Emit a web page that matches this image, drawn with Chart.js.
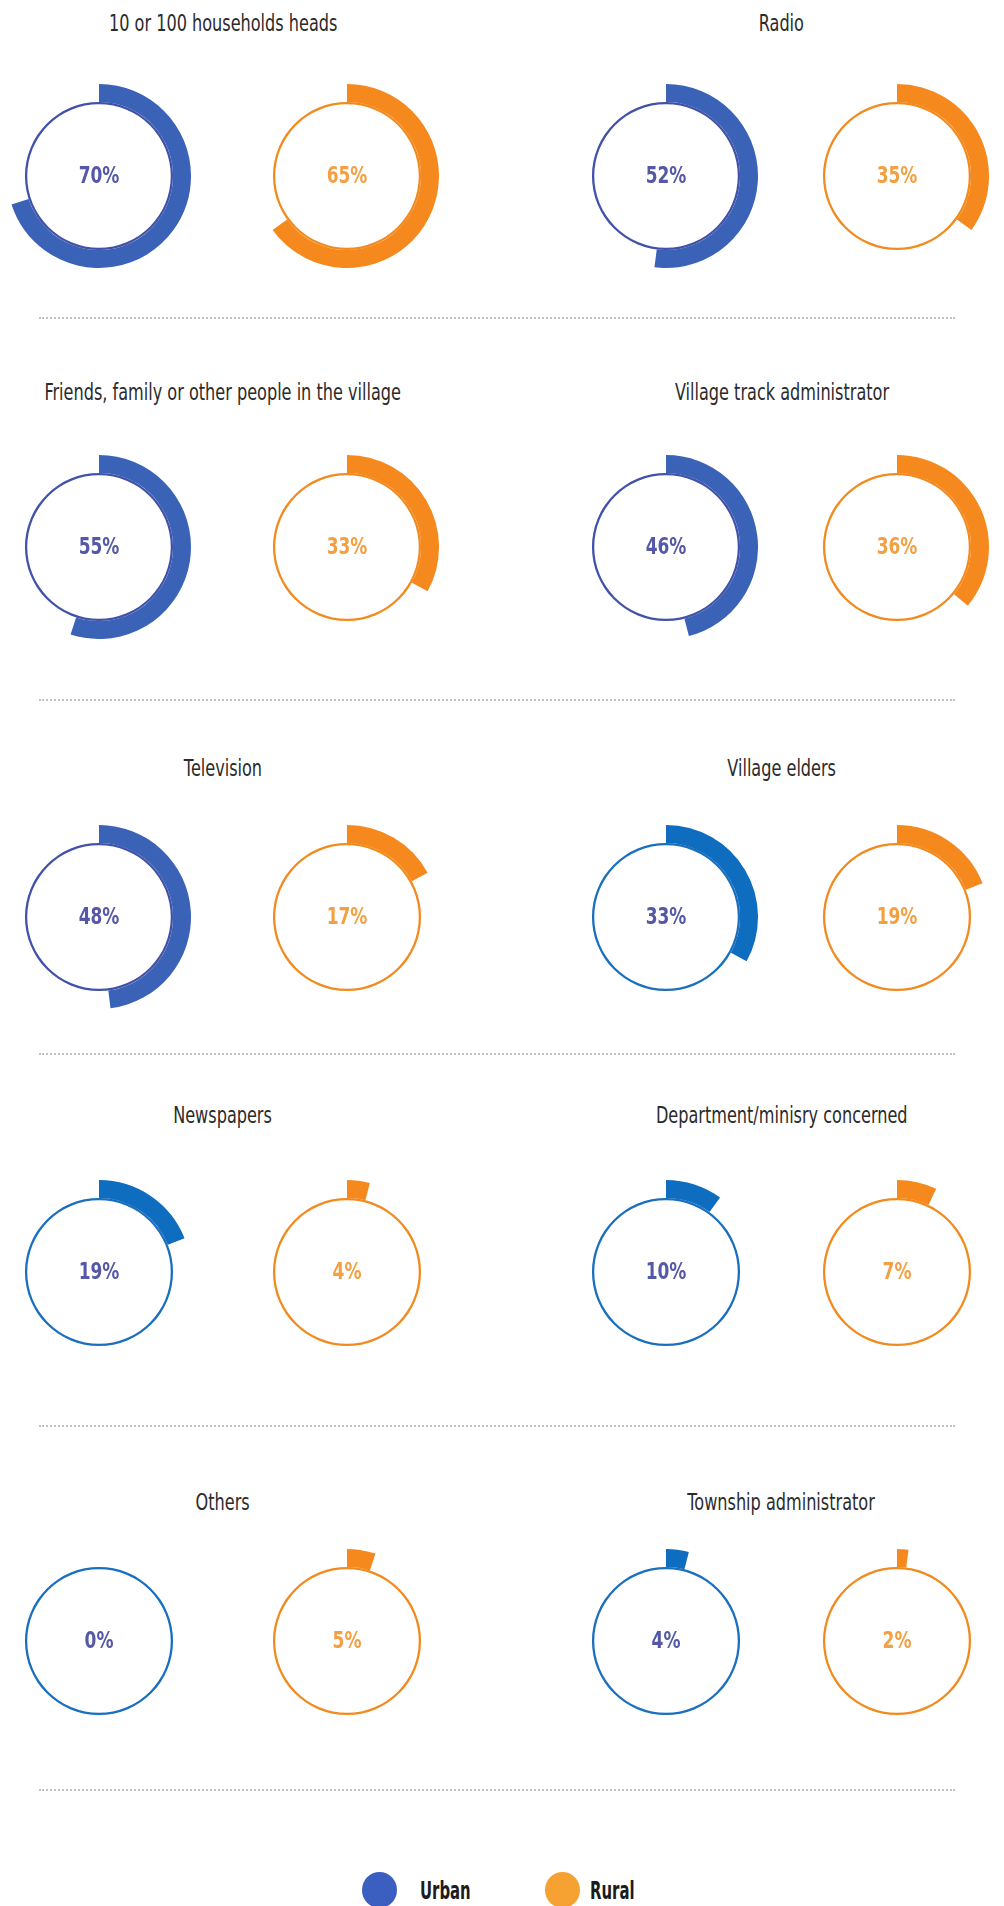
<!DOCTYPE html>
<html>
<head>
<meta charset="utf-8">
<script src="https://cdn.jsdelivr.net/npm/chart.js@4/dist/chart.umd.min.js"></script>
<style>
  html, body { margin: 0; padding: 0; background: #fff; }
  #page { position: relative; width: 1004px; height: 1906px; overflow: hidden;
          font-family: 'DejaVu Sans', sans-serif; }
  .title { position: absolute; width: 600px; margin-left: -300px; text-align: center;
           line-height: 28px; margin-top: -14px; white-space: nowrap; }
  .title span { display: inline-block; font-size: 23px; color: #2b2b2b;
                transform: scaleX(0.70); transform-origin: 50% 50%; }
  .donut { position: absolute; width: 184px; height: 184px; }
  .sep { position: absolute; left: 39px; width: 916px; border-top: 2px dotted #c2c2c2; }
  .legend { position: absolute; top: 1872px; left: 0; width: 1004px; height: 40px; }
  .legend .dot { position: absolute; width: 35px; height: 36px; border-radius: 50%; }
  .legend .lbl { position: absolute; top: 5px; font-size: 24px; font-weight: bold; color: #1b1b1b;
                 transform: scaleX(0.62); transform-origin: 0 50%; }
</style>
</head>
<body>
<div id="page"></div>
<script>
// data
const categories = [
  '10 or 100 households heads', 'Radio',
  'Friends, family or other people in the village', 'Village track administrator',
  'Television', 'Village elders',
  'Newspapers', 'Department/minisry concerned',
  'Others', 'Township administrator'
];
const seriesNames = ['Urban', 'Rural'];
const urbanValues = [70, 52, 55, 46, 48, 33, 19, 10, 0, 4];
const ruralValues = [65, 35, 33, 36, 17, 19, 4, 7, 5, 2];

// layout
const donutX = [99, 347, 666, 897];           // urban/rural, left and right column
const rowY = [176, 547, 917, 1272, 1641];
const titleY = [23, 392, 768, 1115, 1502];
const sepY = [317, 699, 1053, 1425, 1789];

// styles: the first five urban donuts use a royal blue, the rest a lighter one
const royal = { arc: '#3a62b7', ring: '#4352a9' };
const light = { arc: '#0f6dbf', ring: '#1a6fbf' };
const orange = { arc: '#f5891e', ring: '#f28b1f' };
const urbanText = '#5458a6';
const ruralText = '#f3a042';

const centerLabel = {
  id: 'centerLabel',
  afterDraw(chart, args, opts) {
    const arc = chart.getDatasetMeta(0).data[0];
    if (!arc) return;
    const v = chart.data.datasets[0].data[0];
    const ctx = chart.ctx;
    ctx.save();
    ctx.font = "bold 23px 'DejaVu Sans', sans-serif";
    ctx.fillStyle = opts.color;
    ctx.textAlign = 'center';
    ctx.textBaseline = 'middle';
    ctx.translate(arc.x, arc.y + 1);
    ctx.scale(0.74, 1);   // condensed look
    ctx.fillText(v + '%', 0, 0);
    ctx.restore();
  }
};

const page = document.getElementById('page');

function makeDonut(cx, cy, value, name, style, textColor) {
  const box = document.createElement('div');
  box.className = 'donut';
  box.style.left = (cx - 92) + 'px';
  box.style.top = (cy - 92) + 'px';
  const canvas = document.createElement('canvas');
  canvas.width = 184;
  canvas.height = 184;
  box.appendChild(canvas);
  page.appendChild(box);

  new Chart(canvas.getContext('2d'), {
    type: 'doughnut',
    data: {
      labels: [name, ''],
      datasets: [
        {
          data: [value, 100 - value],
          backgroundColor: [style.arc, 'rgba(0,0,0,0)'],
          borderWidth: 0,
          weight: 18
        },
        {
          data: [100],
          backgroundColor: [style.ring],
          borderWidth: 0,
          weight: 2.3
        }
      ]
    },
    options: {
      responsive: false,
      animation: false,
      events: [],
      cutout: '78%',
      layout: { padding: 0 },
      plugins: {
        legend: { display: false },
        tooltip: { enabled: false },
        centerLabel: { color: textColor }
      }
    },
    plugins: [centerLabel]
  });
}

categories.forEach((cat, i) => {
  const row = Math.floor(i / 2);
  const col = i % 2;
  const ux = donutX[col * 2];
  const rx = donutX[col * 2 + 1];
  const cy = rowY[row];

  const t = document.createElement('div');
  t.className = 'title';
  const ts = document.createElement('span');
  ts.textContent = cat;
  t.appendChild(ts);
  t.style.left = ((ux + rx) / 2) + 'px';
  t.style.top = titleY[row] + 'px';
  page.appendChild(t);

  const urbanStyle = i < 5 ? royal : light;
  makeDonut(ux, cy, urbanValues[i], seriesNames[0], urbanStyle, urbanText);
  makeDonut(rx, cy, ruralValues[i], seriesNames[1], orange, ruralText);
});

sepY.forEach(y => {
  const s = document.createElement('div');
  s.className = 'sep';
  s.style.top = y + 'px';
  page.appendChild(s);
});

// legend
const legend = document.createElement('div');
legend.className = 'legend';
const legendItems = [
  { name: seriesNames[0], color: '#3a5fc0', dot: 362, text: 420 },
  { name: seriesNames[1], color: '#f6a233', dot: 545, text: 590 }
];
legendItems.forEach(it => {
  const d = document.createElement('span');
  d.className = 'dot';
  d.style.left = it.dot + 'px';
  d.style.background = it.color;
  const l = document.createElement('span');
  l.className = 'lbl';
  l.style.left = it.text + 'px';
  l.textContent = it.name;
  legend.appendChild(d);
  legend.appendChild(l);
});
page.appendChild(legend);
</script>
</body>
</html>
